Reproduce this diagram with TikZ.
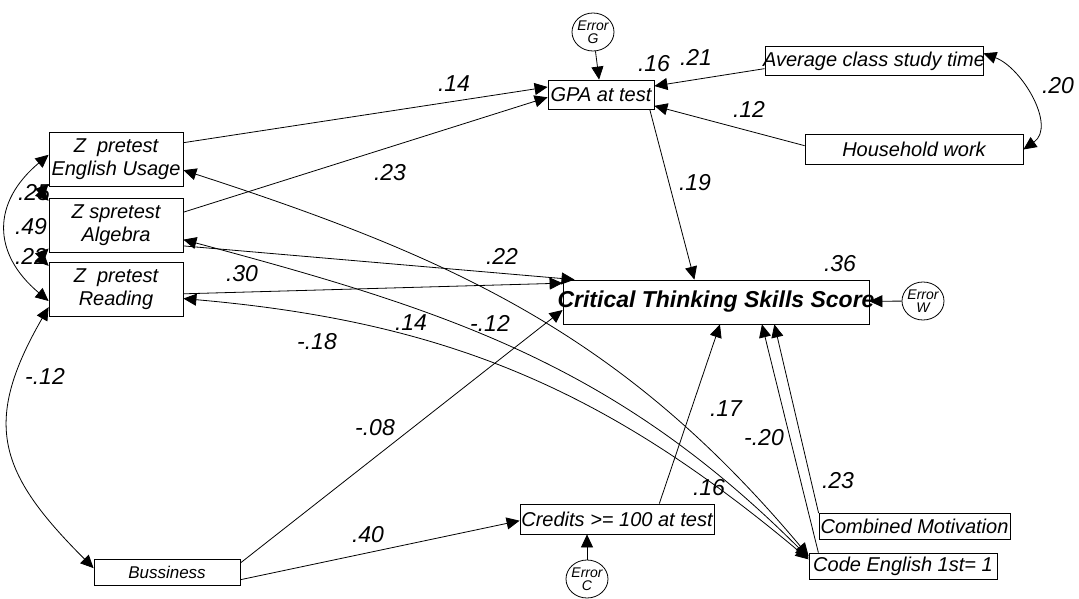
\documentclass[tikz,border=0pt]{standalone}
\usepackage{fontspec}
\setmainfont{Liberation Sans}
\usetikzlibrary{positioning, arrows.meta, shapes.geometric}

\newcommand{\boxtxt}[1]{\makebox[0pt]{#1}}

\begin{document}
\begin{tikzpicture}[x=1pt, y=-1pt, line width=0.8pt,
    >={Triangle[length=13pt,width=12pt]}]
    \tikzstyle{var}=[
        draw = black,
        rectangle,
        inner sep = 0pt,
        align = center,
        font = \fontsize{20}{23}\selectfont\itshape
    ]
    \tikzstyle{err}=[
        draw = black,
        ellipse,
        inner sep = 0pt,
        minimum width = 42pt,
        minimum height = 38pt,
        align = center,
        font = \fontsize{14}{13}\selectfont\itshape
    ]
    \tikzstyle{coef}=[inner sep=0pt, font=\fontsize{23}{23}\selectfont\itshape]
    \useasboundingbox (0,0) rectangle (1079,599);

    % measured variables
    \begin{scope}[every node/.style={var, minimum width=134pt, minimum height=54pt}]
      \node (eng) at (116,159.5) {Z\ \ pretest\\English Usage};
      \node (alg) [below=11pt of eng] {Z spretest\\Algebra};
      \node (read) [below=9pt of alg] {Z\ \ pretest\\Reading};
    \end{scope}
    \node[var, minimum width=106pt, minimum height=29pt] (gpa) at (601,94.5) {\boxtxt{GPA at test}};
    \node[var, minimum width=218pt, minimum height=29pt] (avg) at (874,61) {\boxtxt{Average class study time}};
    \node[var, minimum width=218pt, minimum height=30pt] (hh) at (914,149.5) {\boxtxt{Household work}};
    \node[var, minimum width=306pt, minimum height=44pt,
          font=\fontsize{23}{23}\selectfont\bfseries\itshape] (ctss) at (716,302) {\boxtxt{Critical Thinking Skills Score}};
    \node[var, minimum width=194pt, minimum height=30pt] (cred) at (617,519) {\boxtxt{Credits >= 100 at test}};
    \node[var, minimum width=191pt, minimum height=26pt] (comb) at (914.5,526.5) {\boxtxt{Combined Motivation}};
    \node[var, minimum width=188pt, minimum height=26pt] (code) at (903,566) {\boxtxt{Code English 1st= 1}};
    \node[var, minimum width=146pt, minimum height=26pt,
          font=\fontsize{17}{17}\selectfont\itshape] (bus) at (167,572) {\boxtxt{Bussiness}};

    % error terms
    \node[err] (errg) at (593,32) {\boxtxt{Error}\\\boxtxt{G}};
    \node[err] (errw) at (923,301) {\boxtxt{Error}\\\boxtxt{W}};
    \node[err] (errc) at (587,579) {\boxtxt{Error}\\\boxtxt{C}};

    % coefficients
    \node[coef] (r2gpa) at (654,64) {.16};
    \node[coef] (kavg) at (696,57) {.21};
    \node[coef] (keng) at (454,84) {.14};
    \node[coef] (khh) at (749,109) {.12};
    \node[coef] (kcovah) at (1058,86) {.20};
    \node[coef] (kalg) at (390,173) {.23};
    \node[coef] (kgpa) at (695,183) {.19};
    \node[coef] (kea) at (34,193) {.25};
    \node[coef] (ker) at (31,227) {.49};
    \node[coef] (kar) at (31,256) {.22};
    \node[coef] (kalgc) at (502,256) {.22};
    \node[coef] (r2ctss) at (840,264) {.36};
    \node[coef] (kread) at (242,274) {.30};
    \node[coef] (kca) at (411,323) {.14};
    \node[coef] (kce) at (490,323) {-.12};
    \node[coef] (kcr) at (317,342) {-.18};
    \node[coef] (krb) at (45,376) {-.12};
    \node[coef] (kcred) at (726,409) {.17};
    \node[coef] (kbus) at (375,428) {-.08};
    \node[coef] (kcode) at (764,438) {-.20};
    \node[coef] (kcomb) at (838,481) {.23};
    \node[coef] (r2cred) at (709,488) {.16};
    \node[coef] (kbc) at (368,535) {.40};

    % regression paths
    \path[->] (eng.14) edge (gpa.172)
              (alg.11) edge (gpa.183)
              (avg.184) edge (gpa.9)
              (hh.178) edge (gpa.348)
              (errg) edge (gpa)
              (gpa.343) edge (ctss.134)
              (alg.343) edge (ctss.171)
              (read.356) edge (ctss.173)
              (bus.7) edge (ctss.183)
              (bus.354) edge (cred.181)
              (errc) edge (errc |- cred.south)
              (cred.20) edge (ctss.280)
              (code.171) edge (ctss.334)
              (comb.north west) edge (ctss.339)
              (errw) edge (ctss);

    % covariances
    \path[<->] (avg.4) edge [out=-20, in=35] (hh.0)
               (eng.176) edge [out=220, in=140, looseness=1.3] (read.190)
               (eng.200) edge [out=225, in=135] (alg.160)
               (alg.199) edge [out=225, in=135] (read.161)
               (read.195) edge [out=240, in=135, looseness=1.3] (bus.177)
               (eng.351) edge [out=-18, in=130] (code.174)
               (alg.348) edge [out=-15, in=135] (code.175)
               (read.352) edge [out=-5, in=140] (code.176);
\end{tikzpicture}
\end{document}
